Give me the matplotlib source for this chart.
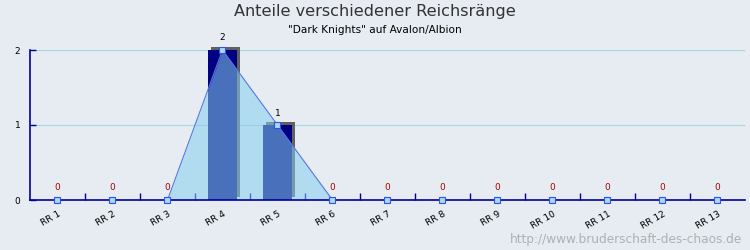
import matplotlib
matplotlib.use("Agg")
import matplotlib.pyplot as plt
import matplotlib.patheffects as pe
import numpy as np

categories = ["RR 1", "RR 2", "RR 3", "RR 4", "RR 5", "RR 6", "RR 7",
              "RR 8", "RR 9", "RR 10", "RR 11", "RR 12", "RR 13"]
values = [0, 0, 0, 2, 1, 0, 0, 0, 0, 0, 0, 0, 0]

bg = "#E6ECF2"
fig = plt.figure(figsize=(7.5, 2.5), dpi=100, facecolor=bg)
ax = fig.add_axes([0.04, 0.2, 0.9533, 0.6], facecolor=bg)

x = np.arange(len(categories))

# bars with drop shadow
bars = ax.bar(x, values, width=0.53, color="#000080", zorder=2,
              path_effects=[pe.SimplePatchShadow(offset=(2.2, 2.2), shadow_rgbFace="#606060", alpha=1.0),
                            pe.Normal()])
for b in bars:
    b.set_clip_on(False)

# area over the bars (only drawn between nonzero neighbours)
v = np.array(values, dtype=float)
keep = np.zeros(len(v), dtype=bool)
for i in range(len(v)):
    if v[i] > 0 or (i > 0 and v[i - 1] > 0) or (i < len(v) - 1 and v[i + 1] > 0):
        keep[i] = True
xa = x[keep]
va = v[keep]
ax.fill_between(xa, 0, va, color="#87CEEB", alpha=0.55, lw=0, zorder=3)
ax.plot(xa, va, color="#5878E0", lw=0.8, zorder=4)

# markers on every point
ax.plot(x, values, ls="none", marker="s", ms=4.6, mfc="#A8D8EA", mec="#3050F0",
        mew=0.8, zorder=5, clip_on=False)

for xi, val in zip(x, values):
    ax.text(xi, val + 0.1, str(val), ha="center", va="bottom", fontsize=6.5,
            color="#AA0000" if val == 0 else "black", zorder=6)

ax.set_xlim(-0.5, len(categories) - 0.5)
ax.set_ylim(0, 2)
ax.set_yticks([0, 1, 2])
ax.set_yticklabels(["0", "1", "2"], fontsize=6.5)
ax.yaxis.grid(True, color="#A8D8E8", lw=0.9, zorder=0)
ax.set_axisbelow(True)

ax.set_xticks(x)
ax.set_xticklabels(categories, fontsize=6.5, rotation=30, ha="right", rotation_mode="anchor")
ax.set_xticks(np.arange(0.5, len(categories) - 0.5, 1), minor=True)
ax.tick_params(axis="x", which="major", length=0, pad=7)
ax.tick_params(axis="x", which="minor", direction="in", length=5, color="#0000A0", width=1)
ax.tick_params(axis="y", direction="in", length=4, color="#0000A0", width=1, pad=7)

for s in ["top", "right"]:
    ax.spines[s].set_visible(False)
for s in ["left", "bottom"]:
    ax.spines[s].set_color("#0000A0")
    ax.spines[s].set_linewidth(1.2)
ax.spines["bottom"].set_zorder(4.5)

fig.text(0.5, 0.955, "Anteile verschiedener Reichsränge", ha="center", va="center",
         fontsize=11.6, color="#333333")
fig.text(0.5, 0.88, "\"Dark Knights\" auf Avalon/Albion", ha="center", va="center",
         fontsize=7.6, color="black")
fig.text(0.99, 0.04, "http://www.bruderschaft-des-chaos.de", ha="right", va="center",
         fontsize=8.7, color="#B0B0B0")

fig.savefig("out.png", dpi=100, facecolor=bg)
